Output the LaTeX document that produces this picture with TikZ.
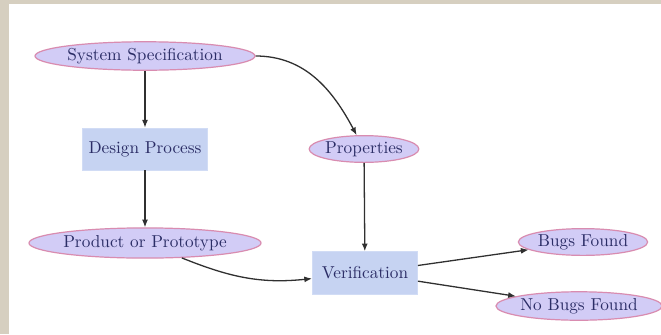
\documentclass[tikz,border=0pt]{standalone}
\usetikzlibrary{shapes.geometric,arrows.meta}
\definecolor{frame}{HTML}{D6CFC0}
\definecolor{ellfill}{HTML}{D2CCF6}
\definecolor{elldraw}{HTML}{D98CB0}
\definecolor{boxfill}{HTML}{C6D3F2}
\definecolor{txt}{HTML}{2B2D66}
\definecolor{arr}{HTML}{303030}
\begin{document}
\begin{tikzpicture}[x=0.58pt,y=-0.58pt,
  ell/.style={ellipse,draw=elldraw,fill=ellfill,line width=0.7pt,inner sep=0pt,text=txt},
  blk/.style={rectangle,fill=boxfill,draw=boxfill!80!white,inner sep=0pt,text=txt},
  link/.style={draw=arr,line width=0.75pt,-{Latex[length=4.5pt,width=3.5pt]}}]
\fill[white] (0,0) rectangle (661,334);
\useasboundingbox (0,0) rectangle (661,334);
\fill[frame] (0,0) rectangle (661,3.5);
\fill[frame] (0,0) rectangle (8.5,334);
\node[ell,minimum width=127.6pt,minimum height=16.5pt] (ss) at (145,56) {System Specification};
\node[blk,minimum width=72.5pt,minimum height=24.4pt] (dp) at (145,149) {Design Process};
\node[ell,minimum width=134.6pt,minimum height=17.5pt] (pp) at (145,243) {Product or Prototype};
\node[ell,minimum width=62pt,minimum height=15.5pt] (pr) at (364,149) {Properties};
\node[blk,minimum width=61pt,minimum height=24.8pt] (ver) at (365,273) {Verification};
\node[ell,minimum width=75pt,minimum height=15.5pt] (bf) at (583,242) {Bugs Found};
\node[ell,minimum width=95.7pt,minimum height=16.5pt] (nbf) at (579,306) {No Bugs Found};
\draw[link] (ss) -- (dp);
\draw[link] (dp) -- (pp);
\draw[link] (pr) -- (ver);
\draw[link] (ss.east) to[out=0,in=118] (pr);
\draw[link] (pp) to[out=-22,in=186] (ver);
\draw[link] (ver) -- (bf);
\draw[link] (ver) -- (nbf);
\end{tikzpicture}
\end{document}
